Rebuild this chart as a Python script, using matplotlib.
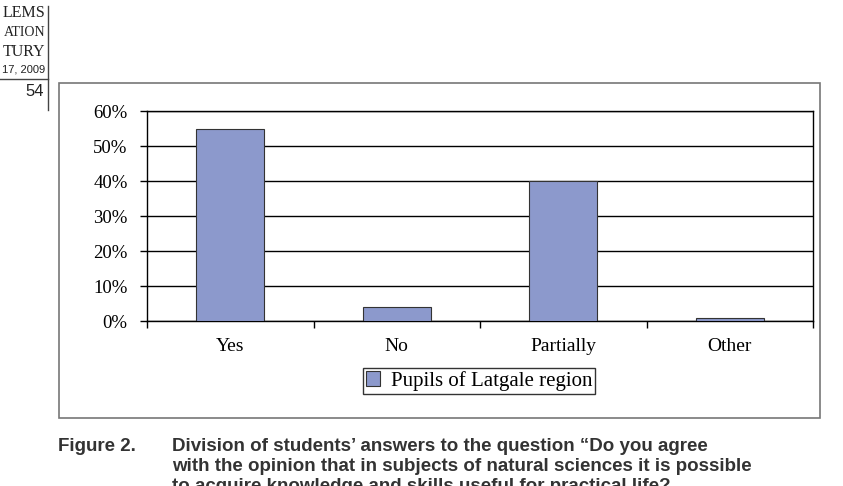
import matplotlib.pyplot as plt
from matplotlib.patches import Rectangle
from matplotlib.lines import Line2D

categories = ["Yes", "No", "Partially", "Other"]
values = [55, 4, 40, 1]
series_name = "Pupils of Latgale region"
y_ticks = [0, 10, 20, 30, 40, 50, 60]
header_lines = ["LEMS", "ATION", "TURY", "17, 2009"]

W, H = 843, 486
fig = plt.figure(figsize=(W / 100, H / 100), dpi=100)

def fx(px):
    return px / W

def fy(py):
    return 1 - py / H

serif = ["Liberation Serif", "DejaVu Serif"]
sans = ["Liberation Sans", "DejaVu Sans"]

# page header fragment (cut at the left edge of the scan)
hdr_y = [13, 33, 52, 69]
hdr_size = [11.5, 10, 11.5, 8]
for t, y, sz in zip(header_lines, hdr_y, hdr_size):
    fam = sans if t[0].isdigit() else serif
    fig.text(fx(45), fy(y), t, ha="right", va="center", fontsize=sz, family=fam, color="#222222")
fig.text(fx(44), fy(91), "54", ha="right", va="center", fontsize=12, family=sans, color="#222222")
fig.add_artist(Line2D([fx(48), fx(48)], [fy(6), fy(110)], color="#444444", lw=1))
fig.add_artist(Line2D([0, fx(48)], [fy(79), fy(79)], color="#444444", lw=1))

# outer chart frame
fig.add_artist(Rectangle((fx(59), fy(418)), fx(820 - 59), (418 - 83) / H,
                         fill=False, ec="#777777", lw=1.2))

ax = fig.add_axes([fx(147), fy(321), fx(813 - 147), (321 - 111) / H])
x = range(len(categories))
bars = ax.bar(x, values, width=0.41, color="#8c99cc", edgecolor="#333333",
              linewidth=0.8, label=series_name, zorder=3)

ax.set_ylim(0, 60)
ax.set_xlim(-0.5, len(categories) - 0.5)
ax.set_yticks(y_ticks)
ax.set_yticklabels([f"{v}%" for v in y_ticks], family=serif, fontsize=13.5)
ax.yaxis.grid(True, color="black", lw=1, zorder=0)
ax.set_xticks([i - 0.5 for i in range(len(categories) + 1)])
ax.set_xticklabels([])
ax.set_xticks(list(x), minor=True)
ax.set_xticklabels(categories, minor=True, family=serif, fontsize=14)
ax.tick_params(axis="x", which="minor", length=0, pad=12)
ax.tick_params(axis="x", which="major", length=5, direction="out", width=1)
ax.tick_params(axis="y", length=5, direction="out", width=1, pad=9)
for s in ax.spines.values():
    s.set_color("black")
    s.set_linewidth(1)

leg = fig.legend(handles=[bars], labels=[series_name], loc="center",
                 bbox_to_anchor=(fx(479), fy(381)), prop={"family": serif, "size": 15},
                 frameon=True, fancybox=False, edgecolor="black",
                 handlelength=0.7, handleheight=0.7, handletextpad=0.5,
                 borderpad=0.15, borderaxespad=0)
leg.get_frame().set_linewidth(1)

# caption (third line is cut by the page edge, as in the scan)
cap = ["Liberation Sans", "DejaVu Sans"]
fig.text(fx(58), fy(446), "Figure 2.", ha="left", va="center", fontsize=13.5,
         fontweight="bold", family=cap, color="#333333")
cap_lines = ["Division of students\u2019 answers to the question \u201cDo you agree",
             "with the opinion that in subjects of natural sciences it is possible",
             "to acquire knowledge and skills useful for practical life?"]
for i, t in enumerate(cap_lines):
    fig.text(fx(172), fy(446 + 20 * i), t, ha="left", va="center", fontsize=13.5,
             fontweight="bold", family=cap, color="#333333")

fig.savefig("out.png", dpi=100)
